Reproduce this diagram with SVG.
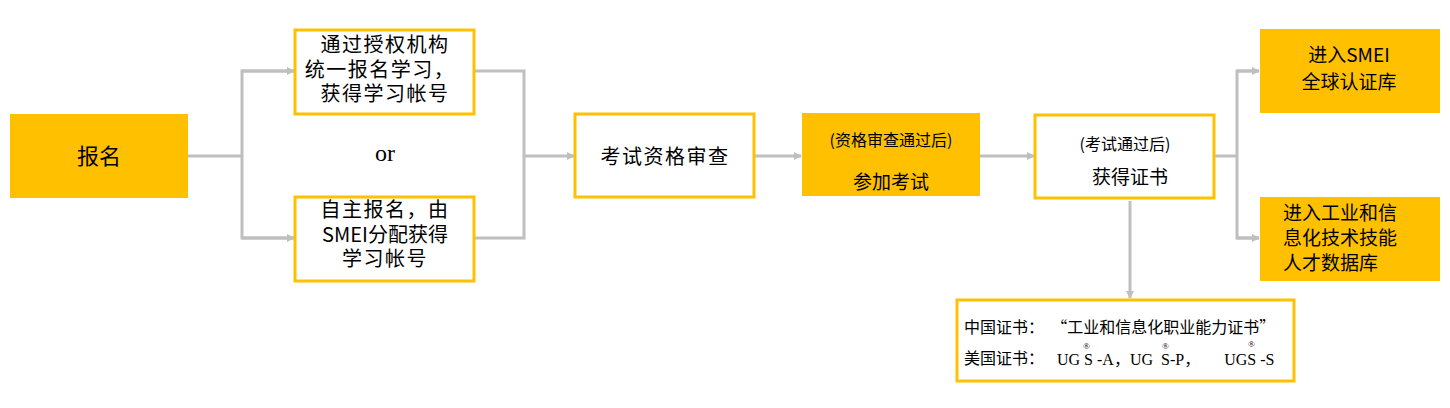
<svg xmlns="http://www.w3.org/2000/svg" width="1450" height="408" viewBox="0 0 1450 408">
<defs>
<style>
.fill{fill:#FFC000;stroke:none}
.out{fill:#fff;stroke:#FFC000;stroke-width:3}
.t{font-family:"Noto Sans CJK SC","Liberation Sans",sans-serif;fill:#000;text-anchor:middle}
.l{font-family:"Noto Sans CJK SC","Liberation Sans",sans-serif;fill:#000;text-anchor:start}
.s{font-family:"Liberation Serif","Noto Sans CJK SC",serif;fill:#000}
.c{fill:none;stroke:#BFBFBF;stroke-width:3}
</style>
<marker id="ah" markerWidth="8" markerHeight="8" refX="7" refY="4" orient="auto" markerUnits="userSpaceOnUse" viewBox="0 0 8 8">
<path d="M0,0 L8,4 L0,8 z" fill="#BFBFBF"/>
</marker>
</defs>
<g id="connectors">
<path class="c" d="M188,156 H242"/>
<path class="c" d="M294,71 H242 V238 H294"/>
<path class="c" d="M242,71 H294" marker-end="url(#ah)"/>
<path class="c" d="M242,238 H294" marker-end="url(#ah)"/>
<path class="c" d="M474,71 H524 V238 H474"/>
<path class="c" d="M524,156 H574" marker-end="url(#ah)"/>
<path class="c" d="M754,156 H801" marker-end="url(#ah)"/>
<path class="c" d="M980,156 H1034" marker-end="url(#ah)"/>
<path class="c" d="M1214,156 H1237"/>
<path class="c" d="M1259,71 H1237 V238 H1259"/>
<path class="c" d="M1237,71 H1259" marker-end="url(#ah)"/>
<path class="c" d="M1237,238 H1259" marker-end="url(#ah)"/>
<path class="c" d="M1130,201 V298" marker-end="url(#ah)"/>
</g>
<g id="n-baoming">
<rect class="fill" x="10" y="114" width="178" height="84"/>
<text class="t" x="99" y="164" font-size="22">报名</text>
</g>
<g id="n-jigou">
<rect class="out" x="295" y="30" width="179" height="84"/>
<text class="t" x="385" y="52" font-size="20" letter-spacing="1.5">通过授权机构</text>
<text class="t" x="380" y="77" font-size="20" letter-spacing="1.5">统一报名学习，</text>
<text class="t" x="385" y="101" font-size="20" letter-spacing="1.5">获得学习帐号</text>
</g>
<text class="s" x="385" y="161" font-size="24" text-anchor="middle">or</text>
<g id="n-zizhu">
<rect class="out" x="295" y="197" width="179" height="84"/>
<text class="t" x="385" y="217" font-size="20" letter-spacing="1.5">自主报名，由</text>
<text class="t" x="385" y="242" font-size="20">SMEI分配获得</text>
<text class="t" x="385" y="266" font-size="20" letter-spacing="1.5">学习帐号</text>
</g>
<g id="n-shencha">
<rect class="out" x="575" y="114" width="179" height="83"/>
<text class="t" x="665" y="164" font-size="20" letter-spacing="1.5">考试资格审查</text>
</g>
<g id="n-kaoshi">
<rect class="fill" x="802" y="113" width="178" height="83"/>
<text class="t" x="891" y="146" font-size="16">(资格审查通过后)</text>
<text class="t" x="891" y="189" font-size="19">参加考试</text>
</g>
<g id="n-zhengshu">
<rect class="out" x="1035" y="115" width="179" height="83"/>
<text class="t" x="1125" y="150" font-size="16">(考试通过后)</text>
<text class="t" x="1130" y="184" font-size="19">获得证书</text>
</g>
<g id="n-smei">
<rect class="fill" x="1260" y="29" width="180" height="84"/>
<text class="t" x="1349" y="62" font-size="19">进入SMEI</text>
<text class="t" x="1349" y="89" font-size="19">全球认证库</text>
</g>
<g id="n-gongxin">
<rect class="fill" x="1260" y="197" width="180" height="84"/>
<text class="l" x="1283" y="220" font-size="19">进入工业和信</text>
<text class="l" x="1283" y="245" font-size="19">息化技术技能</text>
<text class="l" x="1283" y="270" font-size="19">人才数据库</text>
</g>
<g id="n-certs">
<rect class="out" x="957" y="300" width="337" height="81"/>
<text class="l" x="964" y="333" font-size="16" xml:space="preserve">中国证书：  “工业和信息化职业能力证书”</text>
<text class="l" x="964" y="364" font-size="16">美国证书：</text>
<text class="s" x="1057" y="365" font-size="16" xml:space="preserve">UG S -A，UG  S-P，      UGS -S</text>
<text class="s" x="1083" y="349" font-size="9">®</text>
<text class="s" x="1162" y="349" font-size="9">®</text>
<text class="s" x="1248" y="347" font-size="9">®</text>
</g>
</svg>
